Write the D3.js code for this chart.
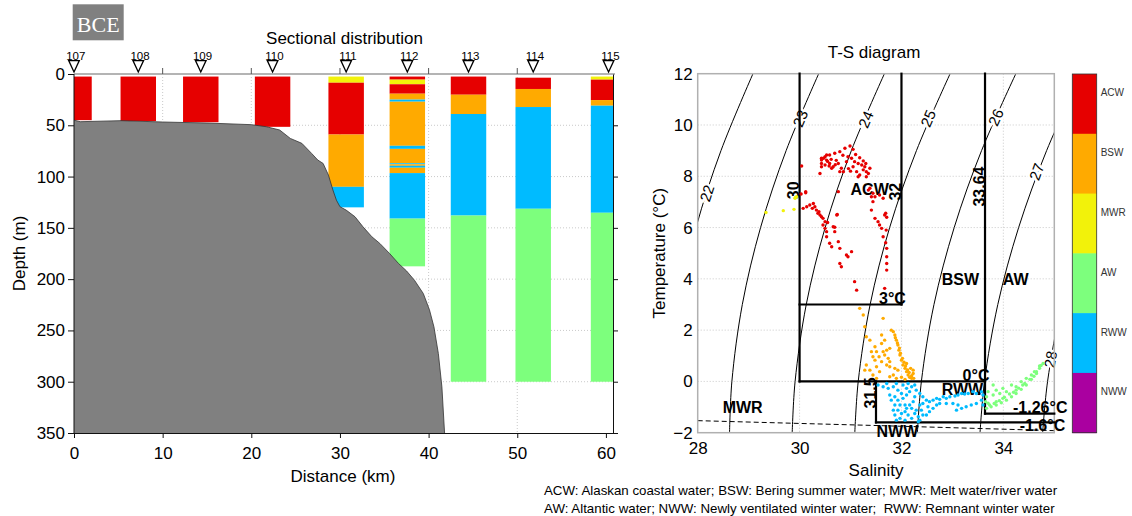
<!DOCTYPE html>
<html><head><meta charset="utf-8">
<script src="https://cdn.jsdelivr.net/npm/d3@7"></script>
<style>
body{margin:0;background:#fff;}
svg{display:block;font-family:"Liberation Sans",Arial,Helvetica,sans-serif;}
</style></head><body>
<svg id="c" width="1132" height="516"></svg>
<script>
// ---------------- DATA ----------------
const waterMasses = ["ACW","BSW","MWR","AW","RWW","NWW"];
const massColors  = ["#e60000","#ffaa00","#f2f20a","#7dff7d","#00bbff","#aa00a0"];

const stations  = ["107","108","109","110","111","112","113","114","115"];
const stationKm = [0, 7.25, 14.3, 22.4, 30.7, 37.6, 44.5, 51.8, 60.3];

// layers per station: [mass, top depth, bottom depth]
const st107 = [["ACW",2.5,45]];
const st108 = [["ACW",2.5,46]];
const st109 = [["ACW",2.5,47]];
const st110 = [["ACW",2.5,51.5]];
const st111 = [["MWR",2.5,8.5],["ACW",8.5,59],["BSW",59,110],["RWW",110,130]];
const st112 = [["ACW",2.5,5.5],["MWR",5.5,10],["ACW",10,19.2],["BSW",19.2,25],["RWW",25,27],["BSW",27,70],
               ["RWW",70,73],["BSW",73,87],["RWW",87,88],["BSW",88,89.5],["RWW",89.5,91.4],["BSW",91.4,96.6],
               ["RWW",96.6,141],["AW",141,187.5]];
const st113 = [["ACW",2.5,20.2],["BSW",20.2,39],["RWW",39,138],["AW",138,300]];
const st114 = [["ACW",3.6,14.6],["BSW",14.6,32.2],["RWW",32.2,131.4],["AW",131.4,300]];
const st115 = [["MWR",2.5,5.5],["ACW",5.5,25.4],["BSW",25.4,30.9],["RWW",30.9,135.3],["AW",135.3,300]];
const stationLayers = [st107,st108,st109,st110,st111,st112,st113,st114,st115];

const bathyKm    = [0,0.7,5.3,10,15,20,21.7,23.2,24.4,25.7,26.8,27.5,28.1,28.7,29.2,29.6,30.0,30.7,31.7,32.6,33.6,34.5,35.6,36.6,37.5,38.4,39.4,40.1,40.6,41.1,41.5,41.8];
const bathyDepth = [45,46.5,45.5,46.8,47.8,49.4,51.4,54.6,62.8,67.6,77.4,83.9,87.2,98.5,113,123,129.4,132.7,139.2,149,158.7,165.2,175,184.7,191.9,201,214,230,246.5,272.5,305,350];

const distTicks  = [0,10,20,30,40,50,60];
const depthTicks = [0,50,100,150,200,250,300,350];

// T-S diagram
const salTicks  = [28,30,32,34];
const tempTicks = [-2,0,2,4,6,8,10,12];
const isoTemps  = [12, 9, 6, 3, 0, -2];
const isoLevels = [22,23,24,25,26,27,28];
const iso22 = [29.085,28.457,27.967,27.62,27.43,27.39];
const iso23 = [30.375,29.736,29.234,28.876,28.671,28.625];
const iso24 = [31.665,31.016,30.502,30.131,29.912,29.855];
const iso25 = [32.955,32.294,31.768,31.385,31.151,31.084];
const iso26 = [34.245,33.572,33.035,32.638,32.391,32.313];
const iso27 = [35.529,34.849,34.300,33.891,33.630,33.542];
const iso28 = [36.82,36.13,35.566,35.144,34.868,34.771];
const isoSal = [iso22,iso23,iso24,iso25,iso26,iso27,iso28];
const isoLabelPos = [[28.18,7.34],[30.01,10.26],[31.30,10.22],[32.52,10.26],[33.85,10.30],[34.65,8.18],[34.92,0.86]];

// water-mass boundaries [S1,T1,S2,T2]
const boxSegments = [[30,12,30,0],[32,12,32,3],[30,3,32,3],[30,0,33.64,0],[33.64,12,33.64,-1.26],
                     [33.64,-1.26,35,-1.26],[31.5,0,31.5,-1.6],[31.5,-1.6,35,-1.6]];
const freezingLine = [[28,-1.53],[31.5,-1.72],[35,-1.92]];

const regionLabels = [["ACW",31.0,7.27],["3°C",31.56,3.02],["BSW",32.79,3.76],["AW",33.99,3.76],
                      ["0°C",33.2,0.0],["RWW",32.79,-0.53],["MWR",28.49,-1.25],["-1.26°C",34.19,-1.22],
                      ["NWW",31.51,-2.17],["-1.6°C",34.32,-1.94]];
const boundaryLabels = [["30",30,7.45],["32",32,7.4],["33.64",33.64,7.6],["31.5",31.5,-0.45]];

const acwPts = [[30.99,9.18],[30.89,9.09],[30.79,8.96],[30.69,8.90],[30.59,8.83],[30.50,8.76],[30.43,8.63],[30.43,8.50],
 [30.50,8.44],[30.59,8.50],[30.66,8.37],[30.76,8.50],[30.82,8.31],[30.86,8.18],[30.95,8.76],[31.02,8.70],[31.08,8.57],
 [31.15,8.50],[31.22,8.44],[31.28,8.37],[31.31,8.18],[31.35,8.11],[31.18,8.05],[31.12,8.18],[31.05,8.37],[30.92,8.57],
 [30.53,8.63],[30.40,8.11],[30.04,8.40],[30.47,8.70],[30.55,8.58],[30.62,8.66],[30.72,8.62],[30.85,8.82],[31.05,9.05],
 [31.10,8.85],[31.18,8.72],[31.25,8.60],[31.30,8.50],[30.58,8.40],[30.70,8.45],[30.96,8.30],[31.00,8.20],[31.25,8.25],
 [31.38,8.31],[31.31,7.98],[31.15,7.98],[30.79,8.18],[30.63,8.31],[30.43,8.37],[30.43,8.70],[30.53,8.83],
 [31.35,7.46],[31.41,7.20],[31.44,7.01],[31.41,6.68],[31.48,6.36],[31.54,6.23],[31.57,6.10],[31.61,5.97],[31.67,6.49],
 [31.71,6.40],[31.64,5.64],[31.69,5.41],[31.71,5.19],[31.71,4.86],[31.71,4.60],[31.71,4.34],[31.67,3.63],[31.38,7.53],
 [31.44,7.34],[31.48,7.20],[31.57,7.27],[31.64,7.14],[31.69,6.56],[31.70,5.90],
 [30.76,7.40],[30.12,7.40],[30.07,6.75],[30.14,6.81],[30.20,6.88],[30.27,6.94],[30.30,6.81],[30.33,6.68],[30.36,6.56],
 [30.40,6.49],[30.43,6.42],[30.46,6.36],[30.50,6.23],[30.46,6.10],[30.50,5.97],[30.53,5.84],[30.53,5.64],[30.59,5.39],
 [30.63,5.25],[30.66,6.03],[30.69,5.84],[30.73,6.49],[30.76,5.45],[30.79,5.19],[30.79,4.60],[30.82,4.47],[30.92,4.93],
 [30.95,4.86],[31.02,5.06],[31.08,3.89],[31.12,3.56],[30.03,7.31],[30.12,7.36],[30.74,6.51],[30.69,6.01],[30.25,6.75],
 [30.38,6.62],[30.55,6.20]];
const mwrPts = [[29.34,6.59],[29.68,6.66],[29.89,6.71],[29.91,7.14],[29.94,7.20],[29.92,7.17]];
const bswPts = [[31.18,2.85],[31.25,2.59],[31.28,2.13],[31.31,1.74],[31.38,1.61],[31.41,1.16],[31.44,0.96],[31.31,0.64],
 [31.28,0.44],[31.38,0.44],[31.48,0.83],[31.51,0.57],[31.56,0.96],[31.61,0.77],[31.64,1.16],[31.57,0.38],[31.44,0.25],
 [31.51,0.12],[31.64,2.46],[31.61,1.81],[31.67,1.61],[31.71,0.64],[31.74,0.90],[31.77,0.77],[31.80,2.00],[31.84,1.94],
 [31.87,1.81],[31.90,1.61],[31.93,1.42],[31.95,1.22],[31.97,1.03],[32.00,0.83],[32.03,0.64],[32.07,0.51],[32.10,0.38],
 [32.13,0.25],[32.16,0.16],[32.20,0.12],[32.23,0.31],[32.24,0.12],[31.84,0.25],[31.77,0.18],[31.90,0.12],[32.00,0.16],
 [32.07,0.08],[31.93,0.44],[31.87,0.51],[31.61,1.48],[31.48,1.35],[31.51,1.16],[31.71,1.22],[31.77,1.29],[31.67,1.03],
 [31.77,0.57],[32.10,0.70],[32.18,0.51],[32.23,0.44],[31.88,1.70],[31.92,1.50],[31.96,1.30],[31.98,1.10],[32.02,0.90],
 [32.05,0.75],[32.08,0.60],[32.12,0.45],[32.15,0.35],[32.20,0.22]];
const rwwPts = [[31.54,-0.14],[31.64,-0.21],[31.74,-0.27],[31.84,-0.21],[31.93,-0.34],[32.00,-0.47],[31.77,-0.53],
 [31.87,-0.60],[31.93,-0.73],[32.03,-0.66],[32.10,-0.53],[32.16,-0.40],[32.20,-0.21],[32.26,-0.14],[32.29,-0.34],
 [32.13,-0.08],[32.03,-0.14],[32.26,-0.60],[32.23,-0.79],[32.16,-0.92],[32.10,-1.05],[32.07,-1.18],[32.13,-1.31],
 [32.00,-1.25],[31.93,-1.12],[31.87,-0.92],[31.84,-1.12],[31.87,-1.31],[31.97,-1.44],[32.07,-1.51],[32.20,-1.44],
 [32.33,-1.38],[32.36,-1.51],[32.42,-1.31],[32.39,-1.12],[32.36,-0.92],[32.42,-0.86],[32.49,-0.73],[32.55,-0.79],
 [32.62,-0.73],[32.69,-0.66],[32.75,-0.70],[32.82,-0.60],[32.88,-0.66],[32.95,-0.60],[33.05,-0.57],[33.11,-0.53],
 [33.18,-0.47],[33.24,-0.49],[33.31,-0.47],[33.40,-0.40],[33.47,-0.47],[33.57,-0.40],[32.52,-0.99],[32.55,-1.18],
 [32.49,-1.31],[32.62,-1.05],[32.69,-0.92],[32.75,-0.86],[32.88,-0.86],[33.01,-0.86],[33.11,-0.92],[33.08,-1.12],
 [33.18,-1.05],[33.27,-0.99],[33.37,-0.92],[33.47,-0.86],[33.57,-0.73],[33.60,-0.53],[33.60,-0.92],[32.36,-0.47],
 [32.42,-0.60],[31.80,-0.73],[31.90,-1.51],[32.26,-1.25],[32.29,-1.12],[32.20,-1.05],[32.33,-1.57],[32.07,-0.92],
 [31.97,-0.92],[31.71,-0.08],[31.90,-0.08],[32.10,-0.27]];
const awPts = [[33.67,-1.05],[33.76,-0.99],[33.86,-0.92],[33.96,-0.83],[34.06,-0.73],[34.16,-0.60],[34.25,-0.47],
 [34.35,-0.31],[34.45,-0.14],[34.55,0.08],[34.65,0.31],[34.71,0.51],[34.78,0.70],[33.73,-0.92],[33.86,-0.79],
 [33.99,-0.66],[34.12,-0.49],[34.25,-0.34],[34.38,-0.14],[34.52,0.08],[34.65,0.38],[33.67,-0.60],[33.70,-0.40],
 [33.80,-0.53],[33.86,-0.34],[33.93,-0.47],[33.99,-0.27],[34.06,-0.40],[34.16,-0.14],[34.25,-0.21],[34.35,-0.01],
 [34.45,0.12],[34.55,0.25],[34.61,0.38],[34.71,0.60],[33.80,-0.14],[33.65,-0.79],[33.70,-0.85],[33.82,-0.86],
 [33.92,-0.75],[34.02,-0.62],[34.20,-0.42],[34.30,-0.26],[34.42,-0.08],[34.60,0.20],[34.74,0.62]];
const scatterSets = [["ACW",acwPts],["MWR",mwrPts],["BSW",bswPts],["RWW",rwwPts],["AW",awPts]];

const noteLines = ["ACW: Alaskan coastal water; BSW: Bering summer water; MWR: Melt water/river water",
                   "AW: Altantic water; NWW: Newly ventilated winter water;  RWW: Remnant winter water"];

// ---------------- DRAW ----------------
const svg = d3.select("#c");
const color = d3.scaleOrdinal().domain(waterMasses).range(massColors);
const defs = svg.append("defs");

// ===== Left panel =====
const xL = d3.scaleLinear().domain([0,60.8]).range([74,613]);
const yL = d3.scaleLinear().domain([0,350]).range([74,433]);
defs.append("clipPath").attr("id","clipL").append("rect")
  .attr("x",xL(0)).attr("y",yL(0)).attr("width",xL(60.8)-xL(0)).attr("height",yL(350)-yL(0));

// BCE logo
svg.append("rect").attr("x",72.7).attr("y",4.3).attr("width",51).attr("height",36).attr("fill","#808080");
svg.append("text").attr("x",98.2).attr("y",32).attr("text-anchor","middle")
  .attr("font-family","'Liberation Serif','Times New Roman',serif").attr("font-size",22).attr("fill","#fff").text("BCE");

svg.append("text").attr("x",344.5).attr("y",44).attr("text-anchor","middle").attr("font-size",17).text("Sectional distribution");

const gL = svg.append("g");
// grid
gL.selectAll(".gx").data(distTicks.filter(d=>d>0&&d<60)).enter().append("line")
  .attr("x1",d=>xL(d)).attr("x2",d=>xL(d)).attr("y1",yL(0)).attr("y2",yL(350))
  .attr("stroke","#bdbdbd").attr("stroke-width",0.8).attr("stroke-dasharray","1,2");
gL.selectAll(".gy").data(depthTicks.filter(d=>d>0&&d<350)).enter().append("line")
  .attr("x1",xL(0)).attr("x2",xL(60.8)).attr("y1",d=>yL(d)).attr("y2",d=>yL(d))
  .attr("stroke","#bdbdbd").attr("stroke-width",0.8).attr("stroke-dasharray","1,2");

// bars
const barG = gL.append("g").attr("clip-path","url(#clipL)");
stationLayers.forEach((ls,i)=>{
  const km = stationKm[i];
  barG.selectAll(null).data(ls).enter().append("rect")
    .attr("x",xL(km-2)).attr("width",xL(km+2)-xL(km-2))
    .attr("y",d=>yL(d[1])).attr("height",d=>yL(d[2])-yL(d[1]))
    .attr("fill",d=>color(d[0]));
});

// bathymetry
const bathy = bathyKm.map((k,i)=>[k,bathyDepth[i]]);
barG.append("path").datum(bathy)
  .attr("d",d3.area().x(d=>xL(d[0])).y0(yL(350)).y1(d=>yL(d[1])))
  .attr("fill","#808080");
barG.append("path").datum(bathy)
  .attr("d",d3.line().x(d=>xL(d[0])).y(d=>yL(d[1])))
  .attr("fill","none").attr("stroke","#333").attr("stroke-width",0.8);

// top gray line + ticks
gL.append("line").attr("x1",xL(0)).attr("x2",xL(60.8)+2).attr("y1",yL(0)).attr("y2",yL(0))
  .attr("stroke","#b4b4b4").attr("stroke-width",2);
gL.selectAll(".tt").data(distTicks.filter(d=>d>0&&d<60)).enter().append("line")
  .attr("x1",d=>xL(d)).attr("x2",d=>xL(d)).attr("y1",yL(0)-6).attr("y2",yL(0))
  .attr("stroke","#555").attr("stroke-width",1);

// axes
const axL = gL.append("g").attr("transform",`translate(${xL(0)},0)`)
  .call(d3.axisLeft(yL).tickValues(depthTicks).tickSize(6).tickPadding(3).tickSizeOuter(0));
const axB = gL.append("g").attr("transform",`translate(0,${yL(350)})`)
  .call(d3.axisBottom(xL).tickValues(distTicks).tickSize(5).tickPadding(9).tickSizeOuter(0));
const axR = gL.append("g").attr("transform",`translate(${xL(60.8)},0)`)
  .call(d3.axisRight(yL).tickValues(depthTicks.filter(d=>d>0)).tickSize(5).tickFormat("").tickSizeOuter(0));
[axL,axB].forEach(a=>{a.selectAll("text").attr("font-size",17).attr("font-family","'Liberation Sans',Arial,sans-serif").attr("fill","#000");});
[axL,axB,axR].forEach(a=>{a.select(".domain").attr("stroke","#111");a.selectAll(".tick line").attr("stroke","#111");});
axL.select(".domain").attr("d",`M0,${yL(0)}V${yL(350)}`);

// stations
const stG = svg.append("g");
stations.forEach((s,i)=>{
  const x = xL(stationKm[i]);
  stG.append("path").attr("d",`M${x-5.3},60.6L${x+5.3},60.6L${x},72Z`)
    .attr("fill","none").attr("stroke","#000").attr("stroke-width",1.3).attr("stroke-linejoin","miter");
  stG.append("text").attr("x",x+1.8).attr("y",59.5).attr("text-anchor","middle").attr("font-size",11.5).text(s);
});

svg.append("text").attr("transform",`translate(25,${(yL(0)+yL(350))/2}) rotate(-90)`)
  .attr("text-anchor","middle").attr("font-size",17).text("Depth (m)");
svg.append("text").attr("x",343).attr("y",482).attr("text-anchor","middle").attr("font-size",17).text("Distance (km)");

// ===== T-S diagram =====
const xS = d3.scaleLinear().domain([28,35]).range([697.7,1054.3]);
const yT = d3.scaleLinear().domain([-2,12]).range([432.7,73.7]);
defs.append("clipPath").attr("id","clipTS").append("rect")
  .attr("x",xS(28)).attr("y",yT(12)).attr("width",xS(35)-xS(28)).attr("height",yT(-2)-yT(12));

svg.append("text").attr("x",874).attr("y",58).attr("text-anchor","middle").attr("font-size",17).text("T-S diagram");

const gT = svg.append("g");
gT.selectAll(".sg").data(salTicks.filter(d=>d>28)).enter().append("line")
  .attr("x1",d=>xS(d)).attr("x2",d=>xS(d)).attr("y1",yT(12)).attr("y2",yT(-2))
  .attr("stroke","#bdbdbd").attr("stroke-width",0.8).attr("stroke-dasharray","1,2");
gT.selectAll(".tg").data(tempTicks.filter(d=>d>-2&&d<12)).enter().append("line")
  .attr("x1",xS(28)).attr("x2",xS(35)).attr("y1",d=>yT(d)).attr("y2",d=>yT(d))
  .attr("stroke","#bdbdbd").attr("stroke-width",0.8).attr("stroke-dasharray","1,2");

// isopycnals
const clipG = gT.append("g").attr("clip-path","url(#clipTS)");
const isoLine = d3.line().x(d=>xS(d[0])).y(d=>yT(d[1])).curve(d3.curveCatmullRom);
isoSal.forEach((arr,k)=>{
  const pts = arr.map((s,j)=>[s,isoTemps[j]]);
  clipG.append("path").datum(pts).attr("d",isoLine).attr("fill","none").attr("stroke","#000").attr("stroke-width",1);
});
// labels
isoLevels.forEach((lv,k)=>{
  const [ls,lt] = isoLabelPos[k];
  const arr = isoSal[k];
  let j = 0; while (j < isoTemps.length-2 && isoTemps[j+1] > lt) j++;
  const ang = Math.atan2(yT(isoTemps[j])-yT(isoTemps[j+1]), xS(arr[j])-xS(arr[j+1]))*180/Math.PI;
  gT.append("text").attr("transform",`translate(${xS(ls)},${yT(lt)}) rotate(${ang})`)
    .attr("text-anchor","middle").attr("dominant-baseline","central").attr("font-size",15)
    .attr("stroke","#fff").attr("stroke-width",5).attr("paint-order","stroke").attr("fill","#000").text(lv);
});

// frame
gT.append("rect").attr("x",xS(28)).attr("y",yT(12)).attr("width",xS(35)-xS(28)).attr("height",yT(-2)-yT(12))
  .attr("fill","none").attr("stroke","#b0b0b0").attr("stroke-width",1.5);

// freezing line
clipG.append("path").datum(freezingLine).attr("d",d3.line().x(d=>xS(d[0])).y(d=>yT(d[1])))
  .attr("fill","none").attr("stroke","#000").attr("stroke-width",1).attr("stroke-dasharray","5,3");

// boundaries
gT.selectAll(".bs").data(boxSegments).enter().append("line")
  .attr("x1",d=>xS(d[0])).attr("y1",d=>yT(d[1])).attr("x2",d=>xS(d[2])).attr("y2",d=>yT(d[3]))
  .attr("stroke","#000").attr("stroke-width",2.2).attr("stroke-linecap","square");

// region text
gT.selectAll(".rl").data(regionLabels).enter().append("text")
  .attr("x",d=>xS(d[1])).attr("y",d=>yT(d[2])).attr("font-size",16).attr("font-weight","bold").text(d=>d[0]);
gT.selectAll(".bl").data(boundaryLabels).enter().append("text")
  .attr("transform",d=>`translate(${xS(d[1])-0.5},${yT(d[2])}) rotate(-90)`)
  .attr("text-anchor","middle").attr("font-size",16).attr("font-weight","bold").text(d=>d[0]);

// scatter
scatterSets.forEach(([m,pts])=>{
  gT.append("g").selectAll("circle").data(pts).enter().append("circle")
    .attr("cx",d=>xS(d[0])).attr("cy",d=>yT(d[1])).attr("r",1.7).attr("fill",color(m));
});

// axes
const axS = gT.append("g").attr("transform",`translate(0,${yT(-2)})`)
  .call(d3.axisBottom(xS).tickValues(salTicks).tickFormat(d3.format("d")).tickSize(0).tickPadding(9));
const axT = gT.append("g").attr("transform",`translate(${xS(28)},0)`)
  .call(d3.axisLeft(yT).tickValues(tempTicks).tickFormat(d3.format("d")).tickSize(0).tickPadding(5));
[axS,axT].forEach(a=>{a.select(".domain").remove();a.selectAll("text").attr("font-size",17).attr("font-family","'Liberation Sans',Arial,sans-serif").attr("fill","#000");});

svg.append("text").attr("x",876).attr("y",476).attr("text-anchor","middle").attr("font-size",17).text("Salinity");
svg.append("text").attr("transform",`translate(665,${(yT(12)+yT(-2))/2}) rotate(-90)`)
  .attr("text-anchor","middle").attr("font-size",17).text("Temperature (°C)");

// colorbar
const cb = d3.scaleBand().domain(waterMasses).range([74,432.7]);
const cbG = svg.append("g");
cbG.selectAll("rect").data(waterMasses).enter().append("rect")
  .attr("x",1072.3).attr("width",24.4).attr("y",d=>cb(d)).attr("height",cb.bandwidth()+0.5).attr("fill",d=>color(d));
cbG.append("rect").attr("x",1072.3).attr("y",74).attr("width",24.4).attr("height",432.7-74)
  .attr("fill","none").attr("stroke","#333").attr("stroke-width",0.8);
cbG.selectAll("text").data(waterMasses).enter().append("text")
  .attr("x",1100.7).attr("y",d=>cb(d)+cb.bandwidth()/2-11).attr("dominant-baseline","central")
  .attr("font-size",10).attr("fill","#333").text(d=>d);

// notes
svg.selectAll(".note").data(noteLines).enter().append("text")
  .attr("x",544).attr("y",(d,i)=>495+i*18).attr("font-size",13.3).style("white-space","pre").text(d=>d);
</script>
</body></html>
